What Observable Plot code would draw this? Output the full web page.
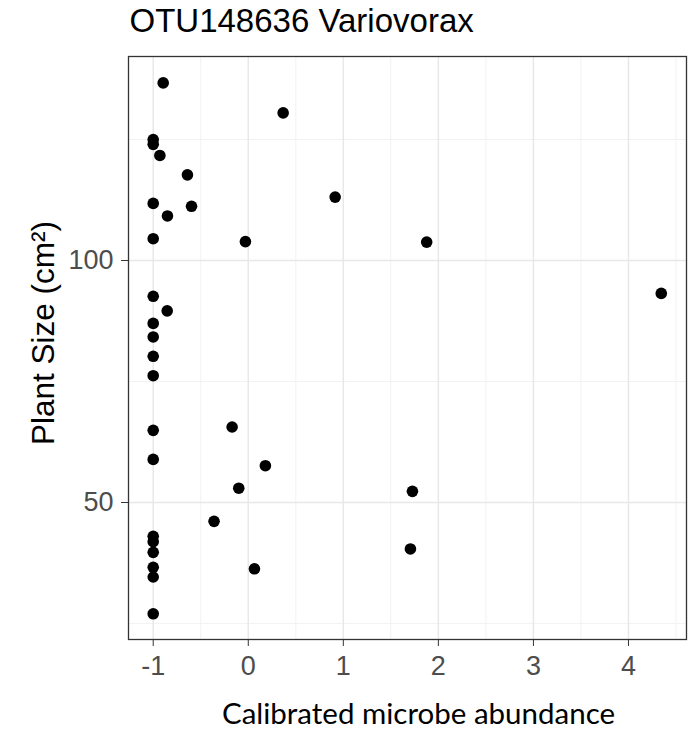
<!DOCTYPE html>
<html>
<head>
<meta charset="utf-8">
<script src="https://cdn.jsdelivr.net/npm/d3@7"></script>
<script src="https://cdn.jsdelivr.net/npm/@observablehq/plot@0.6"></script>
<style>
  html, body { margin: 0; padding: 0; background: #fff; }
  #chart { width: 700px; height: 731px; }
</style>
</head>
<body>
<div id="chart"></div>
<script>
const titleText = "OTU148636 Variovorax";
const xLabel = "Calibrated microbe abundance";
const yLabel = "Plant Size (cm²)";

const abundance = [
  -0.895, 0.367, -1, -1, -0.93, -0.64, -1, -0.597, -0.85, -1, -0.03,
  0.914, 1.877, 4.345,
  -1, -0.853, -1, -1, -1, -1, -1, -0.17, -1, 0.18, -0.10,
  -0.36, -1, -1, -1, -1, -1, 0.065, -1,
  1.727, 1.706
];
const plantSize = [
  136.7, 130.5, 125.0, 124.0, 121.7, 117.7, 111.8, 111.2, 109.2, 104.5, 103.9,
  113.1, 103.8, 93.2,
  92.6, 89.6, 87.0, 84.2, 80.2, 76.2, 64.9, 65.6, 58.9, 57.6, 52.95,
  46.1, 43.0, 41.9, 39.7, 36.6, 34.6, 36.3, 27.0,
  52.3, 40.4
];

const xTicks = [-1, 0, 1, 2, 3, 4];
const xMinor = [-0.5, 0.5, 1.5, 2.5, 3.5, 4.5];
const yTicks = [50, 100];
const yMinor = [25, 75, 125];

const points = abundance.map((a, i) => ({a, s: plantSize[i]}));

const tickFont = "'Liberation Sans', Arial, sans-serif";

const chart = Plot.plot({
  width: 700,
  height: 731,
  marginLeft: 128,
  marginRight: 14,
  marginTop: 56,
  marginBottom: 92,
  style: {fontFamily: tickFont, background: "#fff"},
  x: {domain: [-1.26, 4.6104]},
  y: {domain: [21.69, 142.15]},
  marks: [
    Plot.ruleX(xMinor, {stroke: "#F0F0F0", strokeWidth: 0.9}),
    Plot.ruleY(yMinor, {stroke: "#F0F0F0", strokeWidth: 0.9}),
    Plot.ruleX(xTicks, {stroke: "#E8E8E8", strokeWidth: 1.5}),
    Plot.ruleY(yTicks, {stroke: "#E8E8E8", strokeWidth: 1.5}),
    Plot.axisX({ticks: xTicks, tickSize: 7, tickPadding: 9, fontSize: 27, fontFamily: tickFont, color: "#4D4D4D", stroke: "#333333", label: null, tickFormat: d => d < 0 ? "-" + Math.abs(d) : String(d)}),
    Plot.axisY({ticks: yTicks, tickSize: 7, tickPadding: 8, fontSize: 27, fontFamily: tickFont, color: "#4D4D4D", stroke: "#333333", label: null}),
    Plot.frame({stroke: "#333333", strokeWidth: 1.3}),
    Plot.dot(points, {x: "a", y: "s", r: 5.8, fill: "#000", stroke: null}),
    Plot.text([titleText], {frameAnchor: "top-left", dx: 1, dy: -25, lineAnchor: "bottom", textAnchor: "start", fontSize: 33, fill: "#000", fontFamily: tickFont}),
    Plot.text([yLabel], {frameAnchor: "left", dx: -75, dy: -15, rotate: -90, lineAnchor: "bottom", textAnchor: "middle", fontSize: 31.5, fill: "#000", fontFamily: tickFont}),
    Plot.text([xLabel], {frameAnchor: "bottom", dx: 11, dy: 84, lineAnchor: "bottom", textAnchor: "middle", fontSize: 29.5, fill: "#000", fontFamily: "Lato, 'Open Sans', sans-serif"})
  ]
});
document.getElementById("chart").appendChild(chart);
</script>
</body>
</html>
